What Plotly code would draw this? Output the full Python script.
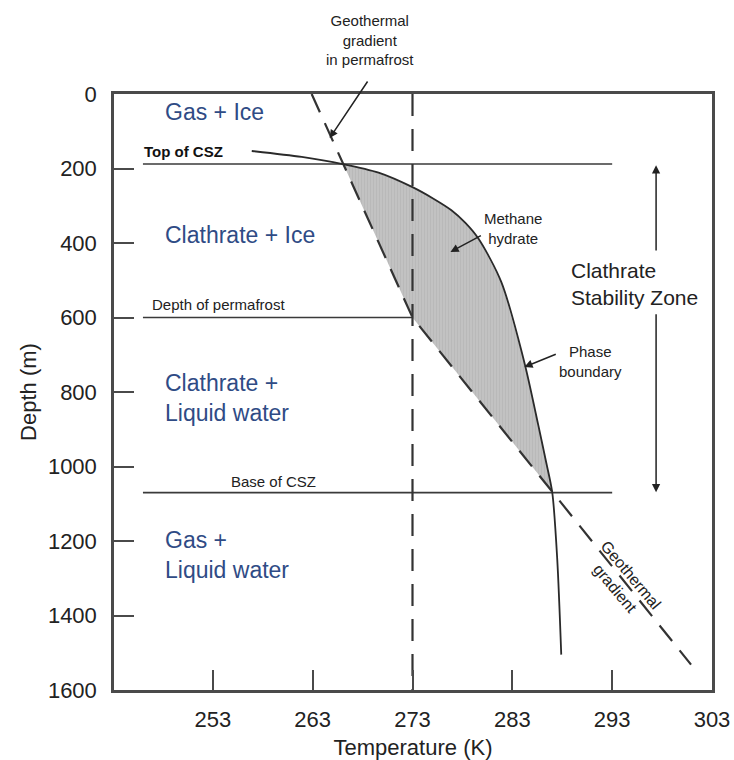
import numpy as np
import plotly.graph_objects as go

# ---- data (temperature K, depth m) ----
phase_T = [256.9, 261.9, 266.0, 269.6, 273.0, 275.1, 276.9, 278.3, 279.6, 281.9, 284.2, 285.6, 286.4, 287.0, 287.5, 287.9]
phase_D = [153, 169, 188, 211, 250, 281, 312, 346, 388, 505, 720, 889, 990, 1070, 1250, 1505]

geo_T = [262.9, 273.0, 300.9]
geo_D = [0, 600, 1532]

freeze_T = 273.0
top_csz = 188
base_csz = 1070
permafrost = 600
line_left_T = 246.0
line_right_T = 293.0

x_ticks = [253, 263, 273, 283, 293, 303]
y_ticks = [0, 200, 400, 600, 800, 1000, 1200, 1400, 1600]

FONT = "Liberation Sans, Arial, Helvetica, sans-serif"
DARK = "#333333"
BLUE = "#2f4b85"

fig = go.Figure()

# shaded clathrate stability region between geotherm and phase boundary
seg_d = [top_csz, permafrost, base_csz]
seg_t = list(np.interp(seg_d, geo_D, geo_T))
pb = [(t, d) for t, d in zip(phase_T, phase_D) if top_csz <= d <= base_csz]
poly_t = seg_t + [t for t, d in reversed(pb)]
poly_d = seg_d + [d for t, d in reversed(pb)]
fig.add_trace(go.Scatter(
    x=poly_t, y=poly_d, mode="lines", fill="toself",
    fillcolor="#bfbfbf",
    fillpattern=dict(shape="|", bgcolor="#c2c2c2", fgcolor="#b0b0b0", size=3, solidity=0.35),
    line=dict(width=0), hoverinfo="skip", showlegend=False))

# horizontal boundary lines
for d, tr in [(top_csz, line_right_T), (permafrost, freeze_T), (base_csz, line_right_T)]:
    fig.add_trace(go.Scatter(x=[line_left_T, tr], y=[d, d], mode="lines",
                             line=dict(color="#3a3a3a", width=1.6), showlegend=False, hoverinfo="skip"))

# 273 K dashed line
fig.add_trace(go.Scatter(x=[freeze_T, freeze_T], y=[0, 1600], mode="lines",
                         line=dict(color=DARK, width=2.2, dash="22px,13px"), showlegend=False, hoverinfo="skip"))

# geothermal gradient
fig.add_trace(go.Scatter(x=geo_T, y=geo_D, mode="lines",
                         line=dict(color=DARK, width=2.2, dash="20px,12px"), showlegend=False, hoverinfo="skip"))

# phase boundary
fig.add_trace(go.Scatter(x=phase_T, y=phase_D, mode="lines", line_shape="spline",
                         line=dict(color="#2a2a2a", width=1.8, smoothing=0.8), showlegend=False, hoverinfo="skip"))

ann = []

def txt(x, y, s, size=15, color="#222222", xanchor="center", bold=False, angle=0, align="center", yref="y"):
    ann.append(dict(x=x, y=y, xref="x", yref=yref, text=("<b>%s</b>" % s) if bold else s,
                    showarrow=False, xanchor=xanchor, yanchor="middle", textangle=angle, align=align,
                    font=dict(family=FONT, size=size, color=color)))

def arrow(x, y, ax, ay, yref="y"):
    ann.append(dict(x=x, y=y, ax=ax, ay=ay, xref="x", yref=yref, axref="x", ayref=yref,
                    text="", showarrow=True, arrowhead=2, arrowsize=1.1, arrowwidth=1.5,
                    arrowcolor="#222222", standoff=0, startstandoff=0))

# region labels
txt(248.0, 48, "Gas + Ice", 23, BLUE, "left", align="left")
txt(248.0, 379, "Clathrate + Ice", 23, BLUE, "left", align="left")
txt(248.0, 816, "Clathrate +<br>Liquid water", 23, BLUE, "left", align="left")
txt(248.0, 1237, "Gas +<br>Liquid water", 23, BLUE, "left", align="left")

# line labels
txt(245.9, 154, "Top of CSZ", 15, "#111111", "left", bold=True)
txt(246.7, 564, "Depth of permafrost", 15, "#222222", "left")
txt(259.1, 1040, "Base of CSZ", 15, "#222222")

# callouts (above the plot area -> axis-domain coordinates)
txt(268.7, 1.0906, "Geothermal<br>gradient<br>in permafrost", 15, yref="y domain")
arrow(264.7, 0.926, 268.6, 1.0235, yref="y domain")
txt(283.1, 362, "Methane<br>hydrate", 15)
arrow(276.8, 424, 280.0, 378)
txt(290.8, 717, "Phase<br>boundary", 15)
arrow(284.2, 733, 287.5, 697)
txt(294.1, 1310, "Geothermal<br>gradient", 16, angle=50)

# CSZ double arrow
arrow(297.4, top_csz + 3, 297.4, 424)
arrow(297.4, base_csz - 1, 297.4, 587)
txt(288.7, 509, "Clathrate<br>Stability Zone", 21, "#222222", "left", align="left")

fig.update_layout(
    width=734, height=760,
    margin=dict(l=114, r=22, t=94, b=70, autoexpand=False),
    plot_bgcolor="white", paper_bgcolor="white",
    font=dict(family=FONT, size=22, color="#222222"),
    annotations=ann,
    showlegend=False,
)
axis_common = dict(showgrid=False, zeroline=False, showline=True, mirror=True,
                   linecolor="#4a4a4a", linewidth=2.5, ticks="inside", ticklen=20,
                   tickwidth=2, tickcolor="#4a4a4a", automargin=False,
                   tickfont=dict(family=FONT, size=22, color="#222222"))
fig.update_xaxes(range=[243.1, 303.0], tickvals=x_ticks, ticktext=[str(v) for v in x_ticks],
                 title=dict(text="Temperature (K)", font=dict(family=FONT, size=22), standoff=10),
                 ticklabelstandoff=8, **axis_common)
fig.update_yaxes(range=[1600, 0], tickvals=y_ticks, ticktext=[str(v) for v in y_ticks],
                 title=dict(text="Depth (m)", font=dict(family=FONT, size=22), standoff=6),
                 ticklabelstandoff=10, **axis_common)

fig.write_html("out.html",
               config={"displayModeBar": False},
               post_script="document.body.style.margin='0px';document.body.style.padding='0px';"
                           "document.body.style.overflow='hidden';")
